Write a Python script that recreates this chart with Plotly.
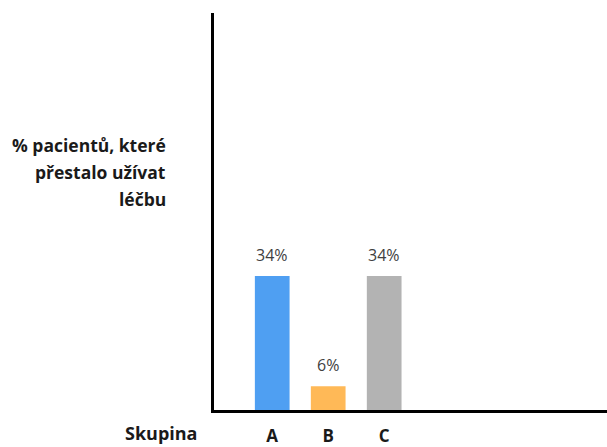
import plotly.graph_objects as go

# Share of patients who stopped treatment, by group
groups = ["A", "B", "C"]
stopped_pct = [34, 6, 34]
bar_colors = ["#4F9FF2", "#FFB957", "#B3B3B3"]

y_title_lines = ["% pacientů, které", "přestalo užívat", "léčbu"]
x_title = "Skupina"

FONT = "'Open Sans', sans-serif"
TEXT_DARK = "#1a1a1a"

fig = go.Figure(
    go.Bar(
        x=groups,
        y=stopped_pct,
        marker=dict(color=bar_colors, line=dict(width=0)),
        width=0.62,
        hoverinfo="skip",
    )
)

# value labels above each bar
for g, v in zip(groups, stopped_pct):
    fig.add_annotation(
        x=g, y=v, text=f"{v}%", showarrow=False,
        yanchor="bottom", yshift=8,
        font=dict(family=FONT, size=16, color="#404040"),
    )

# right-aligned axis title, one annotation per line for wider leading
for i, line in enumerate(y_title_lines):
    fig.add_annotation(
        xref="paper", yref="paper", x=-0.117, y=0.6675 - i * 0.0675,
        text=f"<b>{line}</b>", showarrow=False,
        xanchor="right", yanchor="middle",
        font=dict(family=FONT, size=17.5, color=TEXT_DARK),
    )

fig.add_annotation(
    xref="paper", yref="paper", x=-0.036, y=-0.0575,
    text=f"<b>{x_title}</b>", showarrow=False,
    xanchor="right", yanchor="middle",
    font=dict(family=FONT, size=18, color=TEXT_DARK),
)

fig.update_layout(
    width=607, height=447,
    margin=dict(l=214, r=0, t=13, b=33),
    paper_bgcolor="white", plot_bgcolor="white",
    showlegend=False,
    xaxis=dict(
        type="category", range=[-1.04, 5.98],
        tickvals=groups, ticktext=[f"<b>{g}</b>" for g in groups],
        showline=True, linecolor="black", linewidth=2.5,
        showgrid=False, zeroline=False,
        ticks="outside", ticklen=9, tickcolor="rgba(0,0,0,0)",
        tickfont=dict(family=FONT, size=17, color=TEXT_DARK),
        fixedrange=True,
    ),
    yaxis=dict(
        range=[0, 100.8],
        showline=True, linecolor="black", linewidth=2.5,
        showgrid=False, zeroline=False, showticklabels=False, ticks="",
        fixedrange=True,
    ),
)

fig.write_html("out.html")
